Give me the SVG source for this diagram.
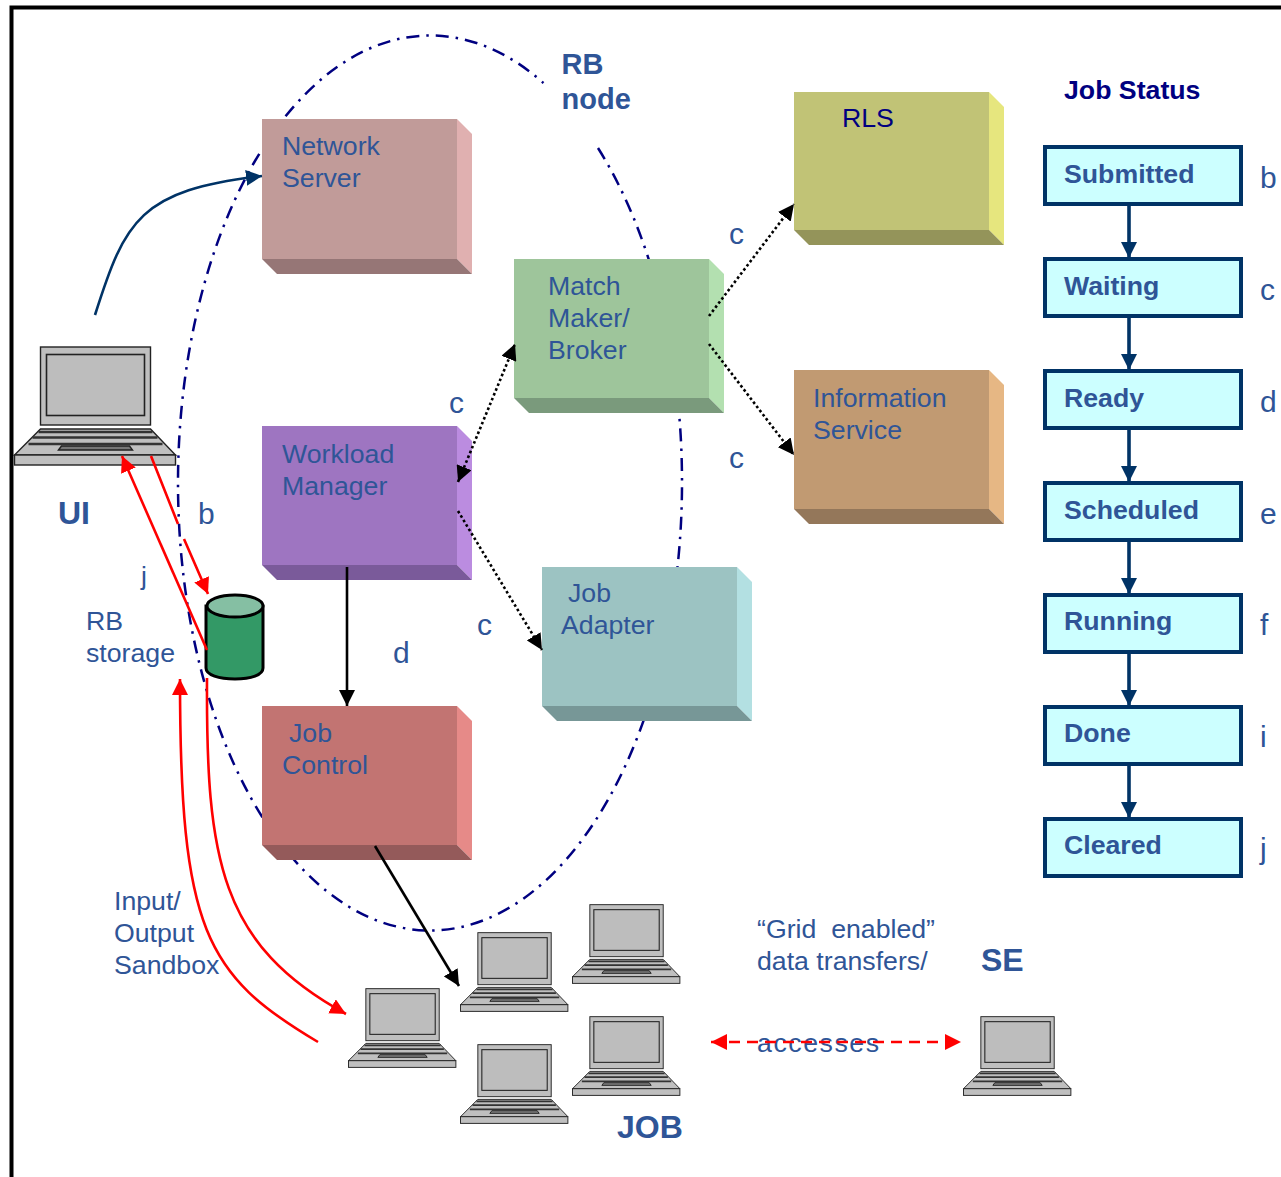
<svg xmlns="http://www.w3.org/2000/svg" width="1281" height="1177" viewBox="0 0 1281 1177">
<style>
text{font-family:"Liberation Sans",Arial,sans-serif;font-size:26.700px;fill:#2f5597}
.b{font-weight:bold}
.big{font-weight:bold;font-size:32px}
.st{font-weight:bold;font-size:26.700px}
.navy{fill:#000080}
.status{fill:#ccffff;stroke:#003366;stroke-width:4}
.ell{fill:none;stroke:#000080;stroke-width:2.5;stroke-dasharray:13 7 2.5 7}
.red{fill:none;stroke:#ff0000;stroke-width:2.6}
.blk{fill:none;stroke:#000;stroke-width:2.6}
.dot{fill:none;stroke:#000;stroke-width:2.6;stroke-dasharray:2.6 2.6}
.st-link{fill:none;stroke:#003366;stroke-width:3.6}
</style>
<defs>
<marker id="aBlk" viewBox="0 0 10 10" refX="10" refY="5" markerWidth="16" markerHeight="16" markerUnits="userSpaceOnUse" orient="auto"><path d="M0 0L10 5L0 10z" fill="#000"/></marker>
<marker id="aBlkS" viewBox="0 0 10 10" refX="0" refY="5" markerWidth="16" markerHeight="16" markerUnits="userSpaceOnUse" orient="auto"><path d="M10 0L0 5L10 10z" fill="#000"/></marker>
<marker id="aRed" viewBox="0 0 10 10" refX="10" refY="5" markerWidth="16" markerHeight="16" markerUnits="userSpaceOnUse" orient="auto"><path d="M0 0L10 5L0 10z" fill="#ff0000"/></marker>
<marker id="aRedS" viewBox="0 0 10 10" refX="0" refY="5" markerWidth="16" markerHeight="16" markerUnits="userSpaceOnUse" orient="auto"><path d="M10 0L0 5L10 10z" fill="#ff0000"/></marker>
<marker id="aNav" viewBox="0 0 10 10" refX="10" refY="5" markerWidth="16" markerHeight="16" markerUnits="userSpaceOnUse" orient="auto"><path d="M0 0L10 5L0 10z" fill="#003366"/></marker>
<g id="laptop" stroke="#222" stroke-width="1.4" fill="#bfbfbf">
<rect x="26" y="1" width="110" height="78"/>
<rect x="32" y="8.500" width="98" height="61" fill="#bdbdbd" stroke-width="1.6"/>
<path d="M26 83H136L161 109H0z"/>
<path d="M24 86H138M18 91.500H143M14 98H148" stroke="#333" stroke-width="2.600" fill="none"/>
<path d="M44 104L47 100H115L118 104z" fill="#777"/>
<rect x="0" y="109" width="161" height="10"/>
</g>
</defs>
<rect width="1281" height="1177" fill="#ffffff"/>
<g id="frame"><path d="M11.500 1177V7.500H1281" fill="none" stroke="#000" stroke-width="4"/></g>

<g id="rb-boundary"><path class="ell" d="M598 148A252 447.500 0 0 1 682 483A252 447.500 0 0 1 430 930.500A252 447.500 0 0 1 178 483A252 447.500 0 0 1 430 35.500A252 447.500 0 0 1 543.500 83"/></g>

<g id="node-network-server">
<polygon points="457,119 472,134 472,274 457,259" fill="#e0b0b0"/>
<polygon points="262,259 457,259 472,274 277,274" fill="#967676"/>
<rect x="262" y="119" width="195" height="140" fill="#c19b99"/>
<text x="282" y="155">Network</text><text x="282" y="187">Server</text>
</g>
<g id="node-match-maker">
<polygon points="709,259 724,274 724,413 709,398" fill="#b3e0b0"/>
<polygon points="514,398 709,398 724,413 529,413" fill="#7a9a7c"/>
<rect x="514" y="259" width="195" height="139" fill="#9ec59b"/>
<text x="548" y="295">Match</text><text x="548" y="327">Maker/</text><text x="548" y="359">Broker</text>
</g>
<g id="node-rls">
<polygon points="989,92 1004,107 1004,245 989,230" fill="#e6e67e"/>
<polygon points="794,230 989,230 1004,245 809,245" fill="#94945a"/>
<rect x="794" y="92" width="195" height="138" fill="#c1c376"/>
<text x="842" y="127" style="fill:#000080">RLS</text>
</g>
<g id="node-information-service">
<polygon points="989,370 1004,385 1004,524 989,509" fill="#e6b784"/>
<polygon points="794,509 989,509 1004,524 809,524" fill="#94775a"/>
<rect x="794" y="370" width="195" height="139" fill="#c19a72"/>
<text x="813" y="407">Information</text><text x="813" y="439">Service</text>
</g>
<g id="node-workload-manager">
<polygon points="457,426 472,441 472,580 457,565" fill="#bb8ce0"/>
<polygon points="262,565 457,565 472,580 277,580" fill="#7a5a9a"/>
<rect x="262" y="426" width="195" height="139" fill="#9e75c1"/>
<text x="282" y="463">Workload</text><text x="282" y="495">Manager</text>
</g>
<g id="node-job-adapter">
<polygon points="737,567 752,582 752,721 737,706" fill="#b3e0e2"/>
<polygon points="542,706 737,706 752,721 557,721" fill="#779797"/>
<rect x="542" y="567" width="195" height="139" fill="#9cc3c2"/>
<text x="568" y="602">Job</text><text x="561" y="634">Adapter</text>
</g>
<g id="node-job-control">
<polygon points="457,706 472,721 472,860 457,845" fill="#e68a88"/>
<polygon points="262,845 457,845 472,860 277,860" fill="#945a5a"/>
<rect x="262" y="706" width="195" height="139" fill="#c27472"/>
<text x="289" y="742">Job</text><text x="282" y="774">Control</text>
</g>

<g id="node-rb-storage">
<path d="M206 606V668C206 675 219 679 235 679S263 675 263 668V606z" fill="#339966" stroke="#000" stroke-width="3"/>
<ellipse cx="235" cy="606" rx="28" ry="11" fill="#85bfa3" stroke="#000" stroke-width="3"/>
<text x="86" y="630">RB</text><text x="86" y="662">storage</text>
</g>

<g id="node-ui"><use href="#laptop" transform="translate(14.500 346)"/><text x="58" y="524" class="big">UI</text></g>
<g id="node-job">
<use href="#laptop" transform="translate(348.500 988) scale(.667)"/>
<use href="#laptop" transform="translate(460.500 932) scale(.667)"/>
<use href="#laptop" transform="translate(572.500 904) scale(.667)"/>
<use href="#laptop" transform="translate(460.500 1044) scale(.667)"/>
<use href="#laptop" transform="translate(572.500 1016) scale(.667)"/>
<text x="617" y="1138" class="big">JOB</text>
</g>
<g id="node-se"><use href="#laptop" transform="translate(963.500 1016) scale(.667)"/><text x="981" y="971" class="big">SE</text></g>

<g id="labels">
<text x="561.500" y="74" class="b" style="font-size:29px">RB</text>
<text x="561.500" y="109" class="b" style="font-size:29px">node</text>
<text x="198" y="524" style="font-size:30px">b</text>
<text x="141" y="585">j</text>
<text x="449" y="413" style="font-size:30px">c</text>
<text x="729" y="244" style="font-size:30px">c</text>
<text x="729" y="468" style="font-size:30px">c</text>
<text x="477" y="635" style="font-size:30px">c</text>
<text x="393" y="663" style="font-size:30px">d</text>
<text x="114" y="910">Input/</text><text x="114" y="942">Output</text><text x="114" y="974">Sandbox</text>
<text x="757" y="938" xml:space="preserve">“Grid  enabled”</text><text x="757" y="970">data transfers/</text><text x="757" y="1052" textLength="122">accesses</text>
<text x="1064" y="99" class="b navy">Job Status</text>
</g>

<g id="connectors">
<path d="M95 315C125 220 140 190 262 176" fill="none" stroke="#003366" stroke-width="2.600" marker-end="url(#aNav)"/>
<path class="blk" d="M347 567V706" marker-end="url(#aBlk)"/>
<path class="blk" d="M375 846L459 986" marker-end="url(#aBlk)"/>
<path class="dot" d="M458 482L515 344" marker-start="url(#aBlkS)" marker-end="url(#aBlk)"/>
<path class="dot" d="M458 511L542 650" marker-end="url(#aBlk)"/>
<path class="dot" d="M709 316L794 204" marker-end="url(#aBlk)"/>
<path class="dot" d="M709 344L794 455" marker-end="url(#aBlk)"/>
<path class="red" d="M151 456L178 524M184 539L208 594" marker-end="url(#aRed)"/>
<path class="red" d="M207 650L122 456" marker-end="url(#aRed)"/>
<path class="red" d="M207 678C206 860 220 945 346 1014" marker-end="url(#aRed)"/>
<path class="red" d="M318 1042C205 975 180 930 180 679" marker-end="url(#aRed)"/>
<path class="red" d="M711 1042H961" stroke-dasharray="11 7" marker-start="url(#aRedS)" marker-end="url(#aRed)"/>
<path class="st-link" d="M1129 204V258" marker-end="url(#aNav)"/>
<path class="st-link" d="M1129 316V370" marker-end="url(#aNav)"/>
<path class="st-link" d="M1129 428V482" marker-end="url(#aNav)"/>
<path class="st-link" d="M1129 540V594" marker-end="url(#aNav)"/>
<path class="st-link" d="M1129 652V706" marker-end="url(#aNav)"/>
<path class="st-link" d="M1129 764V818" marker-end="url(#aNav)"/>
</g>

<g id="status-submitted"><rect class="status" x="1045" y="147" width="196" height="57"/><text class="st" x="1064" y="183">Submitted</text><text x="1260" y="188" style="font-size:30px">b</text></g>
<g id="status-waiting"><rect class="status" x="1045" y="259" width="196" height="57"/><text class="st" x="1064" y="295">Waiting</text><text x="1260" y="300" style="font-size:30px">c</text></g>
<g id="status-ready"><rect class="status" x="1045" y="371" width="196" height="57"/><text class="st" x="1064" y="407">Ready</text><text x="1260" y="412" style="font-size:30px">d</text></g>
<g id="status-scheduled"><rect class="status" x="1045" y="483" width="196" height="57"/><text class="st" x="1064" y="519">Scheduled</text><text x="1260" y="524" style="font-size:30px">e</text></g>
<g id="status-running"><rect class="status" x="1045" y="595" width="196" height="57"/><text class="st" x="1064" y="630">Running</text><text x="1260" y="635" style="font-size:30px">f</text></g>
<g id="status-done"><rect class="status" x="1045" y="707" width="196" height="57"/><text class="st" x="1064" y="742">Done</text><text x="1260" y="747" style="font-size:30px">i</text></g>
<g id="status-cleared"><rect class="status" x="1045" y="819" width="196" height="57"/><text class="st" x="1064" y="854">Cleared</text><text x="1260" y="859" style="font-size:30px">j</text></g>
</svg>
